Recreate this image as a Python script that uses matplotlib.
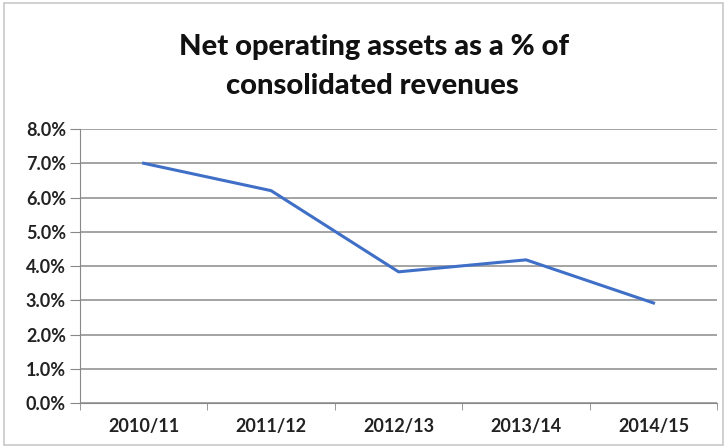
import numpy as np
import matplotlib.pyplot as plt
from matplotlib.patches import Rectangle
from matplotlib.ticker import FuncFormatter

plt.rcParams['font.family'] = ['Lato', 'DejaVu Sans']

#Chart data
years = ['2010/11', '2011/12', '2012/13', '2013/14', '2014/15']
pct = [7.0, 6.2, 3.83, 4.18, 2.92]

fig = plt.figure(figsize=(7.26, 4.47), dpi=100)
ax = fig.add_axes([0.110, 0.0984, 0.878, 0.613])

x = np.arange(len(years))
ax.plot(x, pct, color='#3f6fc6', lw=2.2, solid_joinstyle='round', zorder=3)

ax.set_xlim(-0.5, len(years) - 0.5)
ax.set_ylim(0, 8)
ax.set_yticks(np.arange(0, 9, 1))
ax.yaxis.set_major_formatter(FuncFormatter(lambda v, p: '%.1f%%' % v))
ax.set_xticks(x)
ax.set_xticklabels(years)
ax.set_xticks(np.arange(-0.5, len(years), 1), minor=True)
ax.tick_params(axis='x', which='major', length=0, pad=11, labelsize=13)
ax.tick_params(axis='x', which='minor', length=5, color='#888888', direction='out')
ax.tick_params(axis='y', length=7, color='#888888', labelsize=13, pad=3)
for lbl in ax.get_xticklabels() + ax.get_yticklabels():
    lbl.set_fontweight('bold')
    lbl.set_color('#222222')

ax.grid(axis='y', color='#8a8a8a', lw=1.1)
ax.set_axisbelow(True)
for s in ['top', 'right']:
    ax.spines[s].set_visible(False)
ax.spines['left'].set_color('#888888')
ax.spines['bottom'].set_color('#888888')

fig.text(0.515, 0.895, 'Net operating assets as a % of', ha='center', va='center',
         fontsize=21, fontweight='black', color='#111111')
fig.text(0.513, 0.808, 'consolidated revenues', ha='center', va='center',
         fontsize=21, fontweight='black', color='#111111')

#light chart border
fig.patches.append(Rectangle((0.006, 0.004), 0.99, 0.99, transform=fig.transFigure,
                             fill=False, ec='#c8c8c8', lw=1.2))

fig.savefig('out.png', dpi=100)
